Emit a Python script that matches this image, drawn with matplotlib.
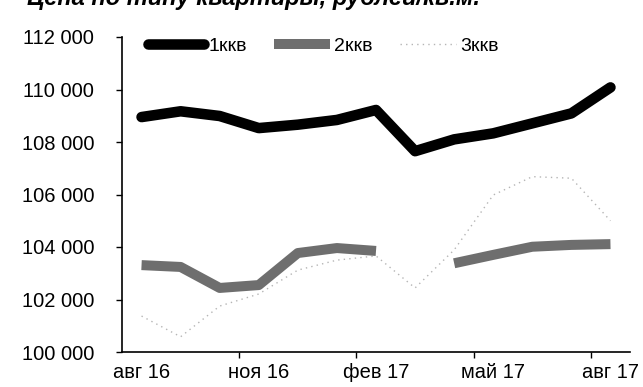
import numpy as np
import matplotlib
matplotlib.use('Agg')
import matplotlib.pyplot as plt
from matplotlib.ticker import FuncFormatter

plt.rcParams['font.family'] = ['Liberation Sans', 'DejaVu Sans']

# monthly points, aug 2016 .. aug 2017
months = ['авг 16', 'сен 16', 'окт 16', 'ноя 16', 'дек 16', 'янв 17', 'фев 17',
          'мар 17', 'апр 17', 'май 17', 'июн 17', 'июл 17', 'авг 17']
tick_labels = ['авг 16', 'ноя 16', 'фев 17', 'май 17', 'авг 17']
series_names = ['1ккв', '2ккв', '3ккв']

q1 = [108950, 109170, 108990, 108530, 108660, 108840, 109220,
      107650, 108100, 108330, 108710, 109090, 110080]
q2 = [103310, 103240, 102440, 102550, 103770, 103960, 103850,
      np.nan, 103380, 103700, 104010, 104080, 104110]
q3 = [101370, 100580, 101750, 102210, 103120, 103500, 103660,
      102440, 103890, 105980, 106680, 106620, 105000]

title = 'Цена по типу квартиры, рублей/кв.м.'

fig = plt.figure(figsize=(6.43, 3.87), dpi=100)
ax = fig.add_axes([122 / 643, 1 - 352 / 387, (630 - 122) / 643, (352 - 37) / 387])

x = np.arange(len(months))
ax.plot(x, q1, color='black', lw=7.6, solid_capstyle='round',
        solid_joinstyle='round', label=series_names[0], zorder=3)
ax.plot(x, q2, color='#6e6e6e', lw=7.2, solid_capstyle='butt',
        solid_joinstyle='round', label=series_names[1], zorder=2)
ax.plot(x, q3, color='#b5b5b5', lw=1.0, ls=(0, (1, 3)),
        label=series_names[2], zorder=1)

ax.set_xlim(-0.5, len(months) - 0.5)
ax.set_ylim(100000, 112000)
ax.set_yticks(np.arange(100000, 112001, 2000))
ax.yaxis.set_major_formatter(FuncFormatter(lambda v, _: f'{int(v):,}'.replace(',', ' ')))

# labels every 3 months, tick marks sit between categories
ax.set_xticks([months.index(m) for m in tick_labels])
ax.set_xticklabels(tick_labels)
ax.set_xticks(np.arange(2.5, len(months), 3), minor=True)
ax.tick_params(axis='x', which='major', length=0, pad=8, labelsize=14.5)
ax.tick_params(axis='x', which='minor', length=4, width=1, direction='out')
ax.tick_params(axis='y', length=4, width=1, pad=16, labelsize=14.5)

for s in ['top', 'right']:
    ax.spines[s].set_visible(False)
for s in ['left', 'bottom']:
    ax.spines[s].set_linewidth(1.2)

fig.legend(loc='center left', bbox_to_anchor=(148 / 643, 1 - 46 / 387),
           ncol=3, frameon=False, fontsize=14, handlelength=2.9,
           handletextpad=0.2, columnspacing=1.4, borderpad=0, borderaxespad=0)

fig.text(27 / 643, 1 - 5 / 387, title, fontsize=17, fontweight='bold',
         fontstyle='italic', va='baseline')

fig.savefig('out.png', dpi=100)
